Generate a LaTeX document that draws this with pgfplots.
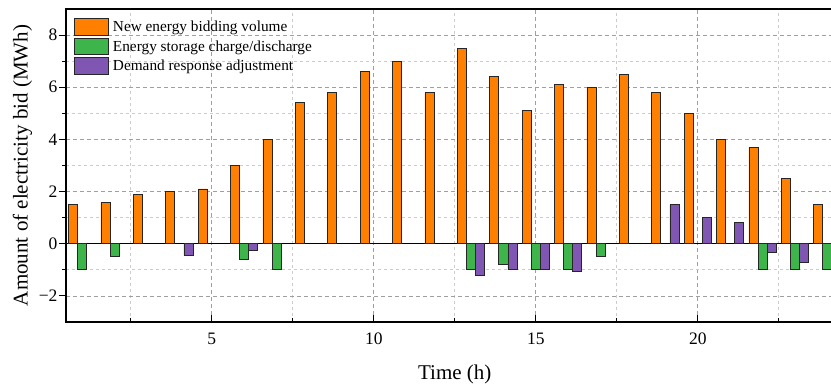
\documentclass[border=0pt]{standalone}
\usepackage{pgfplots}
\pgfplotsset{compat=1.18}
\usepackage{fontspec}
\setmainfont{Liberation Serif}
\definecolor{cOrange}{HTML}{FF8000}
\definecolor{cGreen}{HTML}{3DB54A}
\definecolor{cPurple}{HTML}{7F57B3}
\pgfplotsset{
  mylegend/.style={legend image code/.code={\draw[##1] (0bp,-8.2bp) rectangle (34bp,8.5bp);}},
  barbase/.style={ybar, bar width=9.1bp, draw=black!85, line width=0.8bp, mylegend},
}
\begin{document}
\begin{tikzpicture}
\begin{axis}[
  scale only axis, width=777.6bp, height=313bp,
  xmin=0.5, xmax=24.5, ymin=-3, ymax=9,
  xtick={5,10,15,20}, xticklabels={5,10,15,20},
  minor xtick={2.5,7.5,12.5,17.5,22.5},
  ytick={-2,0,2,4,6,8}, yticklabels={−2,0,2,4,6,8},
  minor ytick={-1,1,3,5,7},
  xtick pos=left, ytick pos=left,
  tick align=inside,
  major tick length=7bp, minor tick length=4bp,
  major y tick style={xshift=-7bp}, minor y tick style={xshift=-4bp},
  tick style={black, line width=1bp},
  grid=both,
  major grid style={gray!75, dash pattern=on 4bp off 3bp, line width=0.7bp},
  minor grid style={gray!40, dash pattern=on 3bp off 3bp, line width=0.7bp},
  axis line style={line width=1.1bp, black},
  extra y ticks={0}, extra y tick labels={},
  extra y tick style={grid=major, major grid style={black, solid, line width=1bp}, major tick length=0pt},
  tick label style={font=\fontsize{17.5bp}{20bp}\selectfont},
  yticklabel style={xshift=-5bp},
  xticklabel style={yshift=-7.5bp},
  xlabel={Time (h)}, ylabel={Amount of electricity bid (MWh)},
  every axis x label/.style={at={(axis description cs:0.5,-0.127)}, anchor=north, font=\fontsize{21bp}{24bp}\selectfont},
  every axis y label/.style={at={(axis description cs:-0.056,0.5)}, rotate=90, anchor=center, font=\fontsize{21bp}{24bp}\selectfont},
  legend style={at={(axis description cs:0,1)}, anchor=north west, xshift=8bp, yshift=-9bp,
    draw=none, fill=none, font=\fontsize{15.3bp}{17bp}\selectfont, row sep=2bp, inner sep=0pt,
    nodes={inner ysep=0.5bp, inner xsep=4bp}},
  legend cell align=left,
]
\addplot[barbase, bar shift=-9.1bp, fill=cOrange] coordinates {
(1,1.5) (2,1.6) (3,1.9) (4,2.0) (5,2.1) (6,3.0) (7,4.0) (8,5.4) (9,5.8) (10,6.6) (11,7.0) (12,5.8)
(13,7.5) (14,6.4) (15,5.1) (16,6.1) (17,6.0) (18,6.5) (19,5.8) (20,5.0) (21,4.0) (22,3.7) (23,2.5) (24,1.5)};
\addplot[barbase, bar shift=0bp, fill=cGreen] coordinates {
(1,-1.0) (2,-0.5) (6,-0.6) (7,-1.0) (13,-1.0) (14,-0.78) (15,-1.0) (16,-1.0) (17,-0.5) (22,-1.0) (23,-1.0) (24,-1.0)};
\addplot[barbase, bar shift=9.1bp, fill=cPurple] coordinates {
(4,-0.45) (6,-0.25) (13,-1.2) (14,-1.0) (15,-1.0) (16,-1.05) (19,1.5) (20,1.0) (21,0.8) (22,-0.35) (23,-0.7)};
\legend{New energy bidding volume, Energy storage charge/discharge, Demand response adjustment}
\coordinate (BL) at (rel axis cs:0,0);
\coordinate (TR) at (rel axis cs:1,1);
\end{axis}
\pgfresetboundingbox
\useasboundingbox ([shift={(-66bp,-63bp)}]BL) rectangle ([shift={(-12.6bp,9bp)}]TR);
\end{tikzpicture}
\end{document}
